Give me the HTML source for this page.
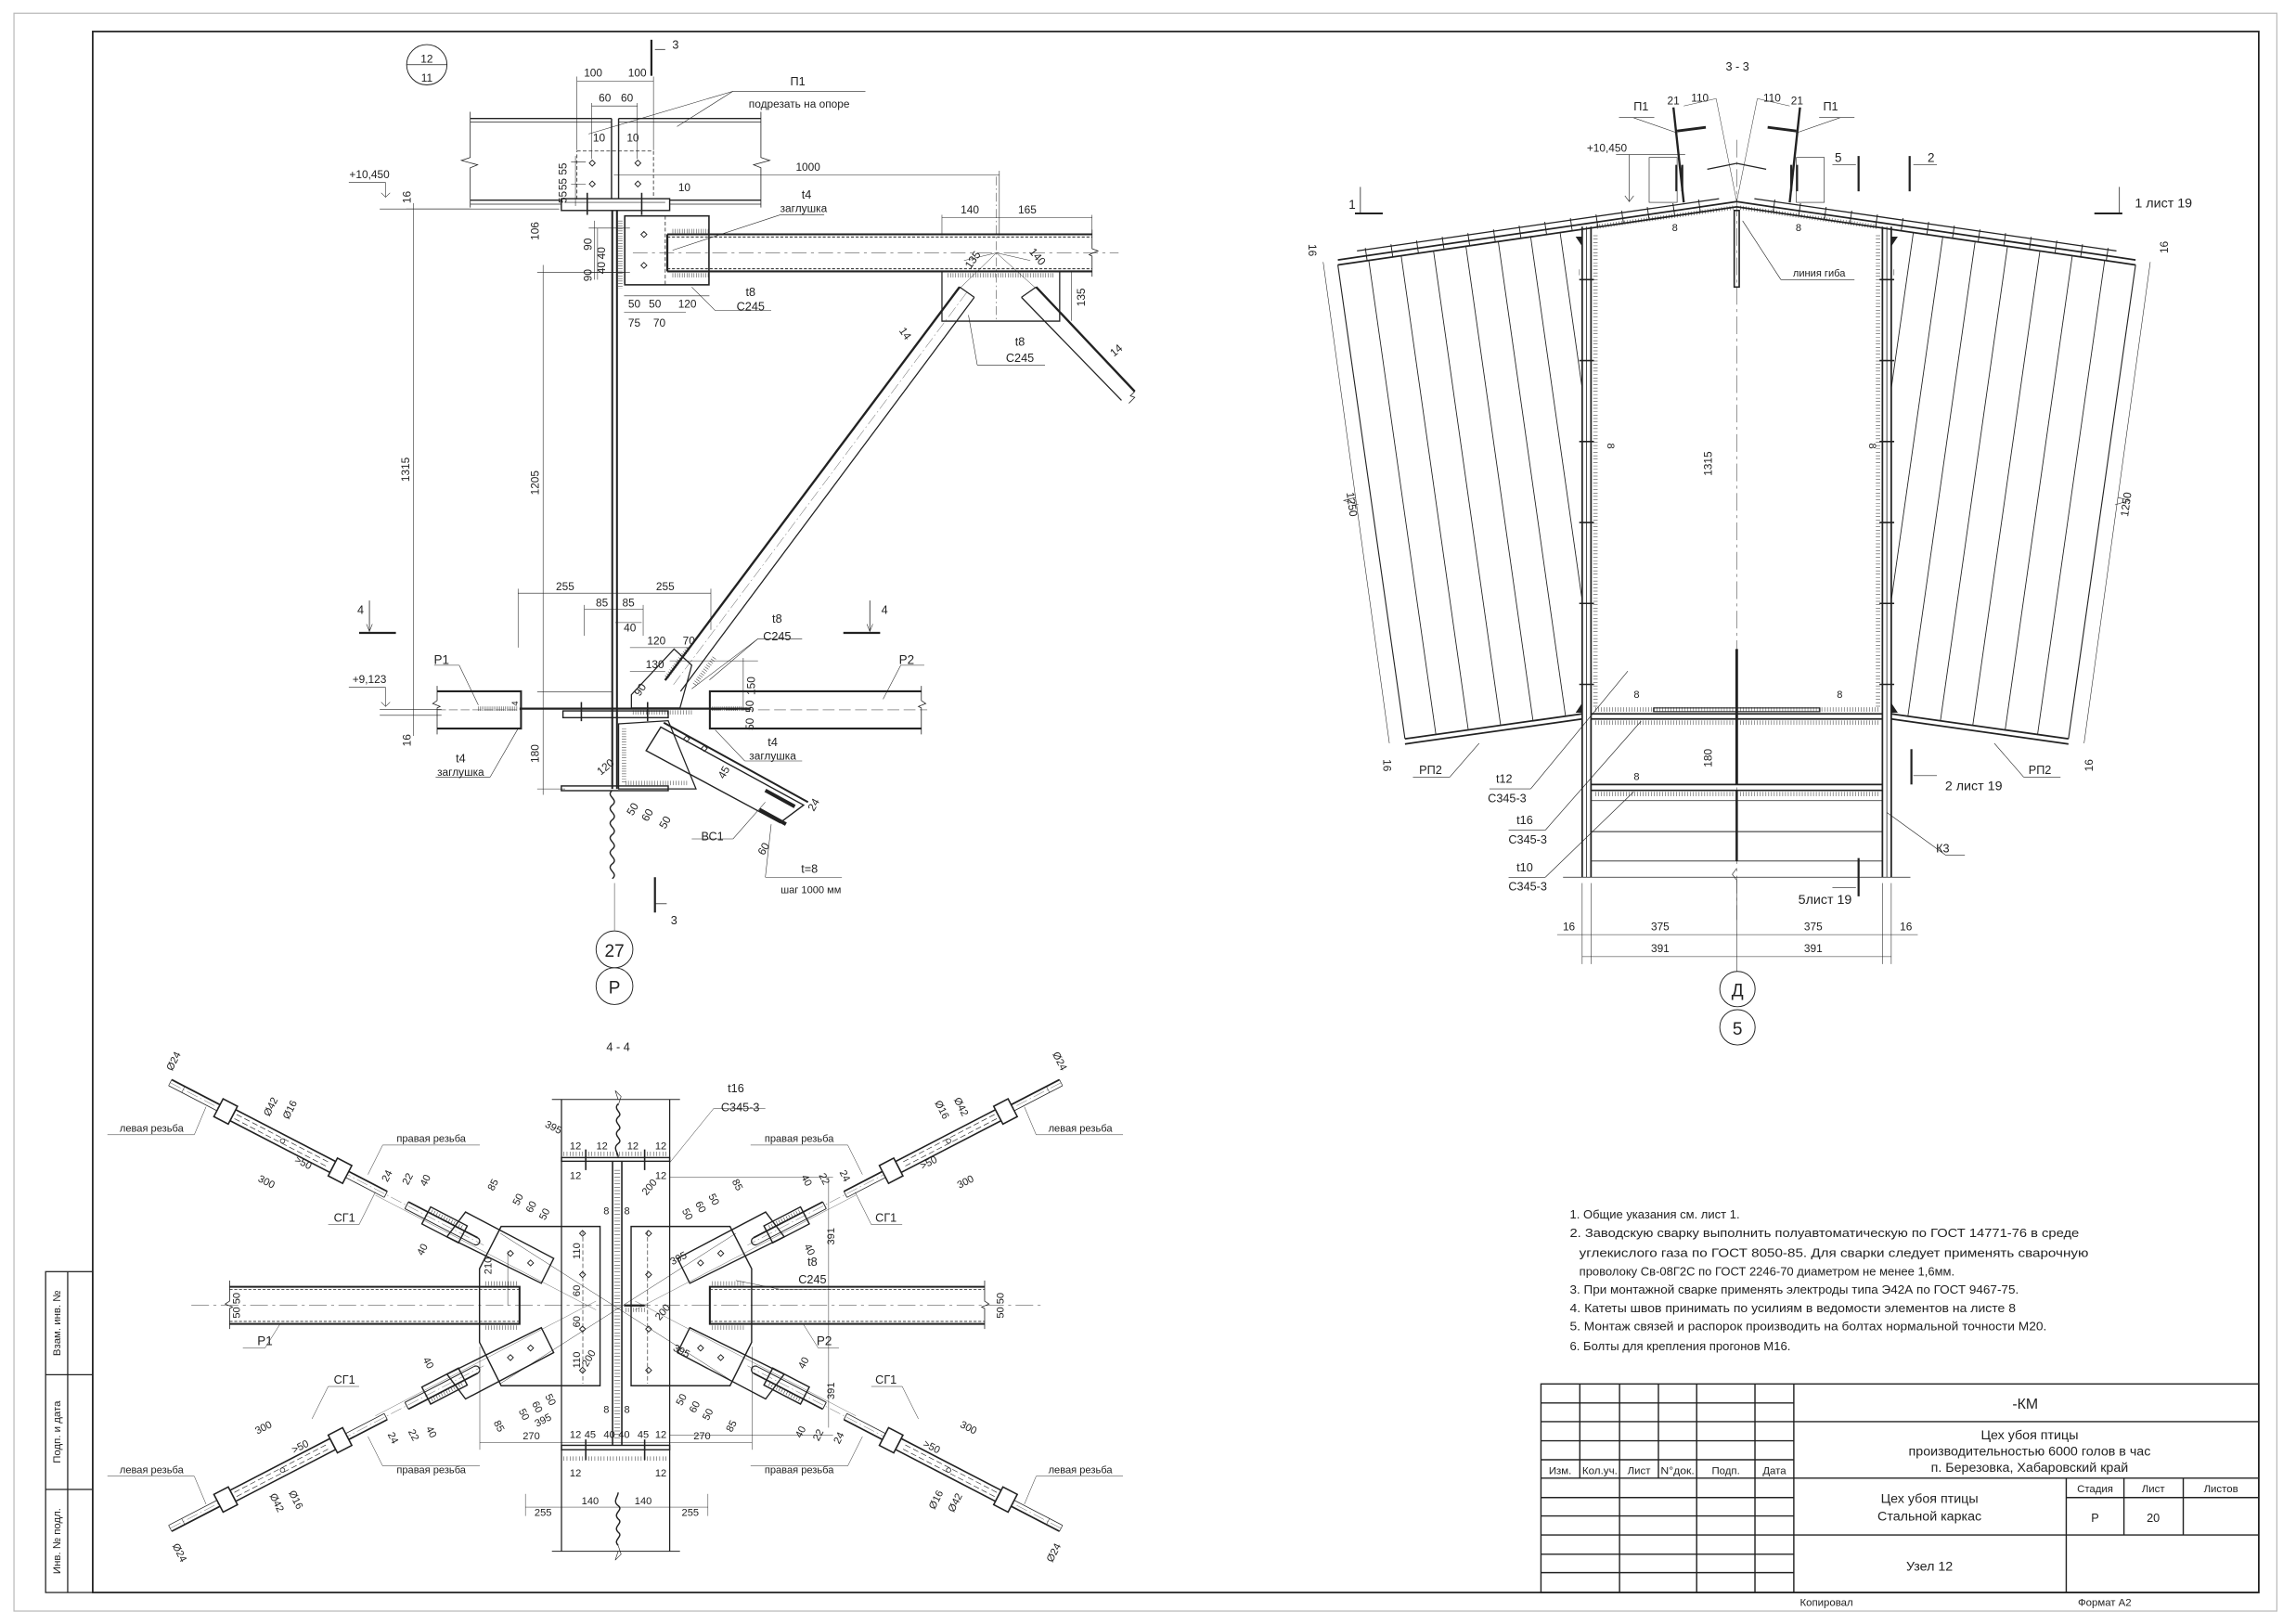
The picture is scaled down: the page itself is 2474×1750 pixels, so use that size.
<!DOCTYPE html>
<html><head><meta charset="utf-8"><style>
html,body{margin:0;padding:0;background:#fff;}
svg{display:block;}
text{font-family:"Liberation Sans Narrow","Liberation Sans","DejaVu Sans",sans-serif;fill:#222;}
</style></head><body>
<svg width="2474" height="1750" viewBox="0 0 1560 1103.4" preserveAspectRatio="none" xmlns="http://www.w3.org/2000/svg">
<defs>
<g id="rod">
  <line x1="0" y1="0" x2="240" y2="0" stroke="#555" stroke-width="0.25" stroke-dasharray="8 2 1 2"/>
  <line x1="0" y1="-2.3" x2="165" y2="-2.3" stroke="#222" stroke-width="1.1"/>
  <line x1="0" y1="2.3" x2="165" y2="2.3" stroke="#222" stroke-width="0.5"/>
  <line x1="0" y1="-2.3" x2="0" y2="2.3" stroke="#222" stroke-width="0.4"/>
  <line x1="10" y1="-2.3" x2="10" y2="2.3" stroke="#222" stroke-width="0.3"/>
  <line x1="165" y1="-2.3" x2="165" y2="2.3" stroke="#222" stroke-width="0.5"/>
  <rect x="48" y="-4.2" width="76.5" height="8.4" fill="#fff" stroke="#222" stroke-width="1"/>
  <line x1="50" y1="-1.6" x2="122" y2="-1.6" stroke="#222" stroke-width="0.4" stroke-dasharray="4 2"/>
  <line x1="50" y1="1.6" x2="122" y2="1.6" stroke="#222" stroke-width="0.4" stroke-dasharray="4 2"/>
  <circle cx="86" cy="0" r="1.5" fill="#fff" stroke="#222" stroke-width="0.5"/>
  <rect x="37" y="-6.8" width="11" height="13.6" fill="#fff" stroke="#222" stroke-width="1"/>
  <rect x="124.5" y="-6.8" width="11" height="13.6" fill="#fff" stroke="#222" stroke-width="1"/>
  <line x1="181" y1="-2.6" x2="234" y2="-2.6" stroke="#222" stroke-width="1.1"/>
  <line x1="181" y1="2.6" x2="234" y2="2.6" stroke="#222" stroke-width="0.6"/>
  <line x1="181" y1="-2.6" x2="181" y2="2.6" stroke="#222" stroke-width="0.6"/>
  <path d="M234,-2.6 A2.6,2.6 0 0 1 234,2.6" fill="none" stroke="#222" stroke-width="0.8"/>
  <rect x="196" y="-6.5" width="28" height="13" fill="none" stroke="#222" stroke-width="0.9"/>
  <line x1="198" y1="-4" x2="222" y2="-4" stroke="#222" stroke-width="3" stroke-dasharray="0.3 1.6"/>
</g>
<g id="quad">
  <use href="#rod" transform="translate(115.6,735.6) rotate(27.4)"/>
  <polygon points="303.7,840.3 316.3,823.5 376.2,855 367.8,871.9" fill="none" stroke="#222" stroke-width="0.9"/>
  <path d="M346.8,849.6 l2,2 l-2,2 l-2,-2z M360.5,856.1 l2,2 l-2,2 l-2,-2z" fill="none" stroke="#222" stroke-width="0.6"/>
  <line x1="255" y1="812" x2="405" y2="890" stroke="#444" stroke-width="0.25"/>
</g>
</defs>
<rect x="0" y="0" width="1560" height="1103.4" fill="#fff"/>
<!-- outer border -->
<rect x="9.5" y="9" width="1537.5" height="1085.6" fill="none" stroke="#bbb" stroke-width="0.8"/>
<!-- frame -->
<rect x="63" y="21.4" width="1471.7" height="1060.6" fill="none" stroke="#222" stroke-width="1.1"/>
<!-- left stamp strip -->
<g stroke="#222" stroke-width="0.8" fill="none">
<rect x="31" y="864" width="32" height="218"/>
<line x1="46" y1="864" x2="46" y2="1082"/>
<line x1="31" y1="934" x2="63" y2="934"/>
<line x1="31" y1="1012" x2="63" y2="1012"/>
</g>
<g font-size="7.2">
<text transform="translate(41,899) rotate(-90)" text-anchor="middle">Взам. инв. №</text>
<text transform="translate(41,973) rotate(-90)" text-anchor="middle">Подп. и дата</text>
<text transform="translate(41,1047) rotate(-90)" text-anchor="middle">Инв. № подл.</text>
</g>

<!-- ================= VIEW 1 (Node 12) ================= -->
<g stroke="#222" fill="none">
<circle cx="290" cy="44" r="13.7" stroke-width="0.6"/>
<line x1="276.3" y1="44" x2="303.7" y2="44" stroke-width="0.5"/>
<!-- section 3 top -->
<line x1="442.6" y1="27" x2="442.6" y2="51.5" stroke-width="1.4"/>
<line x1="445" y1="33.6" x2="452" y2="33.6" stroke-width="0.5"/>
<!-- top beams -->
<g stroke-width="0.9">
<line x1="319.5" y1="80.5" x2="415.5" y2="80.5"/><line x1="319.5" y1="83" x2="415.5" y2="83" stroke-width="0.5"/>
<line x1="420.3" y1="80.5" x2="517" y2="80.5"/><line x1="420.3" y1="83" x2="517" y2="83" stroke-width="0.5"/>
<line x1="319.5" y1="136" x2="381.4" y2="136"/><line x1="319.5" y1="138.7" x2="381.4" y2="138.7" stroke-width="0.5"/>
<line x1="455" y1="136" x2="517" y2="136"/><line x1="455" y1="138.7" x2="517" y2="138.7" stroke-width="0.5"/>
<line x1="415.5" y1="80.5" x2="415.5" y2="135"/><line x1="420.3" y1="80.5" x2="420.3" y2="135"/>
</g>
<path d="M319.5,76 V107 l-6,2 l11,3 l-5,2 V141 M517,76 V107 l6,2 l-11,3 l5,2 V141" stroke-width="0.5"/>
<rect x="392" y="102.6" width="52" height="32.4" stroke-width="0.5" stroke-dasharray="2.5 1.5"/>
<g stroke-width="0.6"><path d="M402.4,108.8 l2,2 l-2,2 l-2,-2z M402.4,123 l2,2 l-2,2 l-2,-2z M433.4,108.8 l2,2 l-2,2 l-2,-2z M433.4,123 l2,2 l-2,2 l-2,-2z"/></g>
<rect x="381.4" y="135" width="73.6" height="8" stroke-width="0.9"/>
<line x1="384" y1="137.5" x2="452" y2="137.5" stroke-width="0.4"/>
<line x1="399" y1="131" x2="399" y2="146" stroke-width="1"/><line x1="436" y1="131" x2="436" y2="146" stroke-width="1"/>
<!-- column -->
<line x1="416" y1="143" x2="416" y2="536" stroke-width="1.3"/>
<line x1="419.2" y1="143" x2="419.2" y2="536" stroke-width="1.3"/>
<line x1="421.5" y1="150" x2="421.5" y2="196" stroke-width="3" stroke-dasharray="0.3 1.4"/>
<!-- column plate -->
<rect x="424.5" y="146.7" width="57.2" height="46.8" stroke-width="1"/>
<line x1="452" y1="146.7" x2="452" y2="193.5" stroke-width="0.5" stroke-dasharray="2.5 1.5"/>
<path d="M437.5,157.3 l2,2 l-2,2 l-2,-2z M437.5,178.3 l2,2 l-2,2 l-2,-2z" stroke-width="0.6"/>
<!-- right beam -->
<line x1="453.4" y1="159.2" x2="742" y2="159.2" stroke-width="1.3"/>
<line x1="453.4" y1="161" x2="742" y2="161" stroke-width="0.6" stroke-dasharray="2 1.2"/>
<line x1="453.4" y1="184.4" x2="742" y2="184.4" stroke-width="1.3"/>
<line x1="453.4" y1="182.6" x2="742" y2="182.6" stroke-width="0.6" stroke-dasharray="2 1.2"/>
<line x1="453.4" y1="159.2" x2="453.4" y2="184.4" stroke-width="1.4"/>
<line x1="430" y1="171.8" x2="760" y2="171.8" stroke-width="0.3" stroke-dasharray="10 3 2 3"/>
<path d="M742,156 V169 l4,1.5 l-6,2.5 l2,1 V188" stroke-width="0.5"/>
<line x1="457" y1="157" x2="482" y2="157" stroke-width="3" stroke-dasharray="0.3 1.3"/>
<line x1="457" y1="187" x2="482" y2="187" stroke-width="3" stroke-dasharray="0.3 1.3"/>
<!-- top gusset -->
<path d="M640,184.4 V218.2 H720 V184.4" stroke-width="0.8"/>
<line x1="640" y1="218.2" x2="720" y2="218.2" stroke-width="0.6" stroke-dasharray="3 1.5"/>
<line x1="644" y1="187" x2="716" y2="187" stroke-width="3" stroke-dasharray="0.3 1.4"/>
<line x1="677" y1="120" x2="677" y2="218" stroke-width="0.3" stroke-dasharray="6 2 1 2"/>
<path d="M652,196 L677,171.8 L704,196" stroke-width="0.3"/>
<path d="M655,177 L677,171.8 L700,177" stroke-width="0.3"/>
<!-- main brace -->
<line x1="652" y1="195" x2="451.9" y2="462.2" stroke-width="1.5"/>
<line x1="662" y1="202" x2="462.4" y2="469.7" stroke-width="0.8"/>
<line x1="652" y1="195" x2="662" y2="202" stroke-width="0.8"/>
<line x1="657" y1="198.5" x2="457" y2="466" stroke-width="0.25" stroke-dasharray="8 2 1 2"/>
<!-- right brace -->
<line x1="704" y1="195" x2="771" y2="266" stroke-width="1.5"/>
<line x1="694" y1="202" x2="762" y2="272" stroke-width="0.8"/>
<line x1="694" y1="202" x2="704" y2="195" stroke-width="0.8"/>
<path d="M771,266 l-3,3 l3,1 l-4,4" stroke-width="0.5"/>
<!-- lower gusset & plates -->
<polygon points="429,481 429,472 458,441 470,452 462,481" stroke-width="0.8"/>
<line x1="453" y1="460" x2="468" y2="440" stroke-width="3" stroke-dasharray="0.3 1.4"/>
<line x1="472" y1="465" x2="486" y2="446" stroke-width="3" stroke-dasharray="0.3 1.4"/>
<line x1="430" y1="484" x2="470" y2="484" stroke-width="3" stroke-dasharray="0.3 1.5"/>
<line x1="353" y1="481.5" x2="510" y2="481.5" stroke-width="1.4"/>
<rect x="382.5" y="483" width="71.5" height="4.6" stroke-width="0.9"/>
<line x1="395" y1="477" x2="395" y2="490" stroke-width="1"/><line x1="440" y1="477" x2="440" y2="490" stroke-width="1"/>
<!-- P1 P2 -->
<path d="M297,469.7 H354 V495 H297" stroke-width="1.3"/>
<line x1="297" y1="482.3" x2="354" y2="482.3" stroke-width="0.3" stroke-dasharray="6 2"/>
<path d="M297,466 V476 l-3,2 l5,2 l-2,1 V499" stroke-width="0.5"/>
<line x1="325" y1="481.5" x2="352" y2="481.5" stroke-width="3" stroke-dasharray="0.3 1"/>
<path d="M626,469.7 H482.3 V495 H626" stroke-width="1.3"/>
<line x1="482" y1="482.3" x2="630" y2="482.3" stroke-width="0.3" stroke-dasharray="8 3"/>
<path d="M626,466 V476 l3,2 l-5,2 l2,1 V499" stroke-width="0.5"/>
<line x1="484" y1="481.5" x2="506" y2="481.5" stroke-width="3" stroke-dasharray="0.3 1"/>
<!-- lower diag plate -->
<polygon points="449,494 546,547 530,559 439,510" stroke-width="0.9"/>
<line x1="451" y1="491" x2="549" y2="545" stroke-width="1.3"/>
<path d="M466.5,500 l2,2 l-2,2 l-2,-2z M478.5,506.5 l2,2 l-2,2 l-2,-2z" stroke-width="0.6"/>
<polygon points="420.3,491.8 454,489.7 472.9,536 420.3,536" stroke-width="0.8"/>
<line x1="424" y1="495" x2="424" y2="532" stroke-width="3" stroke-dasharray="0.3 1.5"/>
<line x1="425" y1="532" x2="468" y2="532" stroke-width="3" stroke-dasharray="0.3 1.5"/>
<rect x="381.4" y="534" width="72.6" height="3.2" stroke-width="0.9"/>
<line x1="520" y1="537" x2="540" y2="548" stroke-width="2.5"/>
<line x1="516" y1="550" x2="534" y2="560" stroke-width="2.5"/>
<!-- wave & axis -->
<path d="M416,537 c-5,4 5,6 0,10 c-5,4 5,6 0,10 c-5,4 5,6 0,10 c-5,4 5,6 0,10 c-5,4 5,6 0,10 c-5,4 5,6 0,10" stroke-width="0.9"/>
<line x1="417.5" y1="600" x2="417.5" y2="632" stroke-width="0.3"/>
<circle cx="417.5" cy="645" r="12.5" stroke-width="0.6"/>
<circle cx="417.5" cy="670" r="12.5" stroke-width="0.6"/>
<!-- section 3 bottom -->
<line x1="445" y1="596" x2="445" y2="620" stroke-width="1.4"/>
<line x1="445" y1="614" x2="453" y2="614" stroke-width="0.5"/>
<!-- section 4 -->
<line x1="244" y1="430" x2="269" y2="430" stroke-width="1.4"/>
<line x1="251" y1="408" x2="251" y2="429" stroke-width="0.5"/>
<line x1="573" y1="430" x2="598" y2="430" stroke-width="1.4"/>
<line x1="591" y1="408" x2="591" y2="429" stroke-width="0.5"/>
<!-- dimension lines view 1 -->
<g stroke-width="0.35">
<line x1="281" y1="138" x2="281" y2="500"/>
<line x1="276" y1="142" x2="380" y2="142"/>
<line x1="369" y1="180" x2="369" y2="540"/>
<line x1="365" y1="185" x2="424" y2="185"/>
<line x1="365" y1="470" x2="416" y2="470"/>
<line x1="365" y1="536" x2="384" y2="536"/>
<line x1="352" y1="403" x2="483" y2="403"/><line x1="352" y1="400" x2="352" y2="440"/><line x1="483" y1="400" x2="483" y2="428"/>
<line x1="397" y1="414" x2="437" y2="414"/><line x1="397" y1="411" x2="397" y2="432"/><line x1="437" y1="411" x2="437" y2="432"/>
<line x1="418" y1="423" x2="436" y2="423"/>
<line x1="428" y1="440" x2="468" y2="440"/>
<line x1="428" y1="456" x2="452" y2="456"/>
<line x1="455" y1="449" x2="515" y2="449"/><line x1="505" y1="447" x2="505" y2="482"/>
<line x1="417" y1="119" x2="679" y2="119"/><line x1="679" y1="116" x2="679" y2="160"/>
<line x1="640" y1="148" x2="742" y2="148"/><line x1="640" y1="146" x2="640" y2="160"/><line x1="742" y1="146" x2="742" y2="160"/>
<line x1="392" y1="55" x2="444" y2="55"/><line x1="392" y1="52" x2="392" y2="102"/><line x1="444" y1="52" x2="444" y2="102"/>
<line x1="402" y1="72" x2="433" y2="72"/><line x1="402" y1="70" x2="402" y2="108"/><line x1="433" y1="70" x2="433" y2="108"/>
<line x1="388" y1="110" x2="398" y2="110"/><line x1="388" y1="125" x2="398" y2="125"/>
<line x1="391" y1="106" x2="391" y2="140"/>
<line x1="400" y1="155" x2="428" y2="155"/><line x1="400" y1="185" x2="428" y2="185"/>
<line x1="404" y1="150" x2="404" y2="190"/><line x1="406" y1="155" x2="406" y2="190"/>
<line x1="424" y1="201" x2="482" y2="201"/><line x1="424" y1="212" x2="466" y2="212"/>
<line x1="728" y1="184" x2="728" y2="218"/>
<line x1="498" y1="62" x2="588" y2="62"/><line x1="498" y1="62" x2="400" y2="91"/><line x1="498" y1="62" x2="460" y2="86"/>
<line x1="530" y1="146" x2="560" y2="146"/><line x1="530" y1="146" x2="457" y2="170"/>
<line x1="486" y1="211" x2="524" y2="211"/><line x1="486" y1="211" x2="470" y2="195"/>
<line x1="664" y1="248" x2="710" y2="248"/><line x1="664" y1="248" x2="658" y2="214"/>
<line x1="515" y1="434" x2="545" y2="434"/><line x1="515" y1="434" x2="470" y2="468"/><line x1="515" y1="434" x2="482" y2="462"/>
<line x1="295" y1="452" x2="312" y2="452"/><line x1="312" y1="452" x2="325" y2="479"/>
<line x1="612" y1="452" x2="628" y2="452"/><line x1="612" y1="452" x2="600" y2="475"/>
<line x1="296" y1="528" x2="333" y2="528"/><line x1="333" y1="528" x2="352" y2="495"/>
<line x1="506" y1="517" x2="545" y2="517"/><line x1="506" y1="517" x2="486" y2="496"/>
<line x1="470" y1="570" x2="498" y2="570"/><line x1="498" y1="570" x2="520" y2="545"/>
<line x1="520" y1="596" x2="572" y2="596"/><line x1="520" y1="596" x2="524" y2="560"/>
<line x1="237" y1="124" x2="262" y2="124"/><line x1="262" y1="124" x2="262" y2="134"/><path d="M259,131 l3,3 l3,-3"/>
<line x1="237" y1="467" x2="262" y2="467"/><line x1="262" y1="467" x2="262" y2="480"/><path d="M259,477 l3,3 l3,-3"/>
<line x1="258" y1="142" x2="320" y2="142"/><line x1="258" y1="482" x2="300" y2="482"/><line x1="258" y1="486" x2="300" y2="486"/>
<path d="M249,424 l2,5 l2,-5"/><path d="M589,424 l2,5 l2,-5"/>
</g>
</g>
<g font-size="7.5" text-anchor="middle">
<text x="290" y="42.5">12</text><text x="290" y="55.5">11</text>
<text x="459" y="33" font-size="8">3</text><text x="458" y="628" font-size="8">3</text>
<text x="403" y="52">100</text><text x="433" y="52">100</text>
<text x="411" y="69">60</text><text x="426" y="69">60</text>
<text x="407" y="96">10</text><text x="430" y="96">10</text><text x="465" y="130">10</text>
<text transform="translate(385,120) rotate(-90)">55 55</text>
<text transform="translate(385,134) rotate(-90)">55</text>
<text x="542" y="58" font-size="8">П1</text>
<text x="543" y="73" font-size="7.5">подрезать на опоре</text>
<text x="549" y="116">1000</text>
<text x="659" y="145">140</text><text x="698" y="145">165</text>
<text x="548" y="135" font-size="8">t4</text><text x="546" y="144" font-size="7.5">заглушка</text>
<text x="510" y="201" font-size="8">t8</text><text x="510" y="211" font-size="8">C245</text>
<text x="693" y="235" font-size="8">t8</text><text x="693" y="246" font-size="8">C245</text>
<text transform="translate(737,202) rotate(-90)">135</text>
<text transform="translate(663,178) rotate(-55)">135</text>
<text transform="translate(703,176) rotate(50)">140</text>
<text transform="translate(613,228) rotate(55)">14</text>
<text transform="translate(760,240) rotate(-40)">14</text>
<text transform="translate(366,157) rotate(-90)">106</text>
<text transform="translate(402,166) rotate(-90)">90</text>
<text transform="translate(402,187) rotate(-90)">90</text>
<text transform="translate(411,172) rotate(-90)">40</text><text transform="translate(411,182) rotate(-90)">40</text>
<text x="431" y="209">50</text><text x="445" y="209">50</text><text x="467" y="209">120</text>
<text x="431" y="222">75</text><text x="448" y="222">70</text>
<text transform="translate(278,319) rotate(-90)">1315</text>
<text transform="translate(366,328) rotate(-90)">1205</text>
<text transform="translate(279,134) rotate(-90)">16</text>
<text transform="translate(279,503) rotate(-90)">16</text>
<text transform="translate(366,512) rotate(-90)">180</text>
<text x="384" y="401">255</text><text x="452" y="401">255</text>
<text x="409" y="412">85</text><text x="427" y="412">85</text>
<text x="428" y="429">40</text><text x="446" y="438">120</text><text x="468" y="438">70</text>
<text x="445" y="454">130</text>
<text transform="translate(513,466) rotate(-90)">150</text>
<text transform="translate(437,470) rotate(-55)">90</text>
<text transform="translate(352,478) rotate(-90)" font-size="6">4</text>
<text transform="translate(512,492) rotate(-90)">50</text><text transform="translate(512,480) rotate(-90)">50</text>
<text x="528" y="423" font-size="8">t8</text><text x="528" y="435" font-size="8">C245</text>
<text x="300" y="451" font-size="8.5">P1</text><text x="616" y="451" font-size="8.5">P2</text>
<text x="313" y="518" font-size="8">t4</text><text x="313" y="527" font-size="7.5">заглушка</text>
<text x="525" y="507" font-size="8">t4</text><text x="525" y="516" font-size="7.5">заглушка</text>
<text x="484" y="571" font-size="8">ВС1</text>
<text x="550" y="593" font-size="8">t=8</text><text x="551" y="607" font-size="7">шаг 1000 мм</text>
<text transform="translate(413,523) rotate(-40)">120</text>
<text transform="translate(432,551) rotate(-60)">50</text><text transform="translate(442,555) rotate(-60)">60</text><text transform="translate(454,560) rotate(-60)">50</text>
<text transform="translate(521,578) rotate(-60)">60</text>
<text transform="translate(555,548) rotate(-60)">24</text>
<text transform="translate(494,526) rotate(-60)">45</text>
<text x="251" y="121" font-size="7.5">+10,450</text><text x="251" y="464" font-size="7.5">+9,123</text>
<text x="245" y="417" font-size="8">4</text><text x="601" y="417" font-size="8">4</text>
<text x="417.5" y="650" font-size="12">27</text><text x="417.5" y="675" font-size="12">P</text>
</g>

<!-- ================= VIEW 3-3 ================= -->
<text x="1180.5" y="48" font-size="8" text-anchor="middle">3 - 3</text>
<g id="halfL" stroke="#222" fill="none">
<line x1="909" y1="176.6" x2="1180" y2="137" stroke-width="1.1"/>
<line x1="909" y1="180" x2="1180" y2="140.5" stroke-width="1.1"/>
<line x1="922" y1="170.5" x2="1168" y2="135" stroke-width="0.8"/>
<line x1="928" y1="173" x2="1165" y2="138.5" stroke-width="9" stroke-dasharray="0.6 17"/>
<line x1="1085" y1="154" x2="1178" y2="141" stroke-width="3" stroke-dasharray="0.3 1.6"/>
<line x1="909" y1="180" x2="954.6" y2="502" stroke-width="0.7"/>
<line x1="954.6" y1="502" x2="1075" y2="485" stroke-width="1.1"/>
<line x1="954.6" y1="505.5" x2="1075" y2="488.5" stroke-width="1.1"/>
<g stroke-width="0.55">
<line x1="930" y1="176.9" x2="975.6" y2="499"/>
<line x1="952" y1="173.7" x2="997.6" y2="495.9"/>
<line x1="974" y1="170.5" x2="1019.6" y2="492.8"/>
<line x1="996" y1="167.3" x2="1041.6" y2="489.7"/>
<line x1="1018" y1="164.1" x2="1063.7" y2="486.6"/>
<line x1="1040" y1="160.9" x2="1075" y2="408"/>
<line x1="1060" y1="158" x2="1075" y2="264"/>
</g>
<line x1="1075" y1="154" x2="1075" y2="596" stroke-width="1.1"/>
<line x1="1078" y1="154" x2="1078" y2="596" stroke-width="0.5"/>
<line x1="1081" y1="154" x2="1081" y2="596" stroke-width="1.1"/>
<line x1="1084" y1="160" x2="1084" y2="480" stroke-width="3" stroke-dasharray="0.3 2"/>
<line x1="1073" y1="185" x2="1083" y2="185" stroke-width="4" stroke-dasharray="0.3 55"/>
<path d="M1073,190 h10 M1073,245 h10 M1073,300 h10 M1073,355 h10 M1073,410 h10 M1073,465 h10" stroke-width="1"/>
<path d="M1071,161 l4,6 l0,-6z M1071,484 l4,-6 l0,6z" fill="#222" stroke-width="0.5"/>
<line x1="1081" y1="485" x2="1180" y2="485" stroke-width="1.1"/>
<line x1="1081" y1="488.5" x2="1180" y2="488.5" stroke-width="1.1"/>
<line x1="1084" y1="491" x2="1178" y2="491" stroke-width="3" stroke-dasharray="0.3 1.6"/>
<line x1="1084" y1="482" x2="1178" y2="482" stroke-width="3" stroke-dasharray="0.3 1.6"/>
<rect x="1123.5" y="481" width="56.5" height="2.5" stroke-width="0.7"/>
<line x1="1081" y1="533" x2="1180" y2="533" stroke-width="1.1"/>
<line x1="1081" y1="537" x2="1180" y2="537" stroke-width="1.1"/>
<line x1="1084" y1="539.5" x2="1178" y2="539.5" stroke-width="3" stroke-dasharray="0.3 1.6"/>
<line x1="1081" y1="544" x2="1180" y2="544" stroke-width="0.5"/>
<line x1="1081" y1="565" x2="1180" y2="565" stroke-width="0.6"/>
<line x1="1081" y1="585" x2="1180" y2="585" stroke-width="0.6"/>
<line x1="1062" y1="596" x2="1180" y2="596" stroke-width="0.5"/>
<line x1="899" y1="178" x2="944" y2="505" stroke-width="0.35"/>
<path d="M921,338 l-8,2 l10,3" stroke-width="0.35"/>
<line x1="1075" y1="600" x2="1075" y2="655" stroke-width="0.35"/>
<line x1="1081" y1="600" x2="1081" y2="655" stroke-width="0.35"/>
<line x1="1137" y1="73" x2="1144" y2="137.5" stroke-width="1.5"/>
<path d="M1139.5,89 L1159,86.5" stroke-width="1.8"/>
<rect x="1120.5" y="107" width="19" height="30.5" stroke-width="0.4"/>
<path d="M1139,112 v18 M1143,112 v18" stroke-width="1.4"/>
<line x1="1109.6" y1="79.9" x2="1139.8" y2="90.4" stroke-width="0.4"/>
<line x1="1100" y1="79.9" x2="1124" y2="79.9" stroke-width="0.4"/>
<line x1="1180" y1="137" x2="1166" y2="67" stroke-width="0.3"/>
<line x1="1144" y1="72" x2="1166" y2="67" stroke-width="0.3"/>
</g>
<use href="#halfL" transform="translate(2360,0) scale(-1,1)"/>
<g stroke="#222" fill="none">
<line x1="1180" y1="95" x2="1180" y2="625" stroke-width="0.3" stroke-dasharray="12 3 2 3"/>
<rect x="1178.3" y="143" width="3.4" height="52" stroke-width="1"/>
<line x1="1180" y1="441" x2="1180" y2="533" stroke-width="1.8"/>
<line x1="1180" y1="537" x2="1180" y2="585" stroke-width="1.6"/>
<path d="M1160,115 L1180,111 L1200,115" stroke-width="0.8"/>
<path d="M1180,590 l-3,4 l3,4 v2" stroke-width="0.4"/>
<line x1="1058" y1="635" x2="1303" y2="635" stroke-width="0.35"/>
<line x1="1075" y1="650" x2="1285" y2="650" stroke-width="0.35"/>
<line x1="1180" y1="600" x2="1180" y2="660" stroke-width="0.35"/>
<circle cx="1180.5" cy="672" r="12" stroke-width="0.6"/>
<circle cx="1180.5" cy="698" r="12" stroke-width="0.6"/>
<line x1="1180.5" y1="660" x2="1180.5" y2="660" stroke-width="0.3"/>
<line x1="1262.8" y1="106" x2="1262.8" y2="130" stroke-width="1.4"/>
<line x1="1297.5" y1="106" x2="1297.5" y2="130" stroke-width="1.4"/>
<line x1="1245" y1="112" x2="1261" y2="112" stroke-width="0.4"/><line x1="1300" y1="112" x2="1316" y2="112" stroke-width="0.4"/>
<line x1="924.3" y1="127" x2="924.3" y2="145" stroke-width="0.5"/><line x1="920.6" y1="145" x2="939.5" y2="145" stroke-width="1.3"/>
<line x1="1440" y1="127" x2="1440" y2="145" stroke-width="0.5"/><line x1="1423" y1="145" x2="1442" y2="145" stroke-width="1.3"/>
<line x1="1098" y1="105" x2="1145" y2="105" stroke-width="0.4"/><line x1="1107" y1="105" x2="1107" y2="137" stroke-width="0.4"/><path d="M1104,133 l3,4 l3,-4" stroke-width="0.4"/>
<line x1="1298.7" y1="509" x2="1298.7" y2="533" stroke-width="1.4"/><line x1="1300" y1="527" x2="1316" y2="527" stroke-width="0.4"/>
<line x1="1262.8" y1="583" x2="1262.8" y2="609" stroke-width="1.4"/><line x1="1245" y1="603" x2="1261" y2="603" stroke-width="0.4"/>
<line x1="1210" y1="190" x2="1260" y2="190" stroke-width="0.4"/><line x1="1210" y1="190" x2="1184" y2="150" stroke-width="0.4"/>
<line x1="960" y1="528" x2="985" y2="528" stroke-width="0.4"/><line x1="985" y1="528" x2="1005" y2="505" stroke-width="0.4"/>
<line x1="1375" y1="528" x2="1400" y2="528" stroke-width="0.4"/><line x1="1375" y1="528" x2="1355" y2="505" stroke-width="0.4"/>
<line x1="1012" y1="536" x2="1040" y2="536" stroke-width="0.4"/><line x1="1040" y1="536" x2="1106" y2="456" stroke-width="0.4"/>
<line x1="1025" y1="564" x2="1050" y2="564" stroke-width="0.4"/><line x1="1050" y1="564" x2="1115" y2="490" stroke-width="0.4"/>
<line x1="1025" y1="596" x2="1050" y2="596" stroke-width="0.4"/><line x1="1050" y1="596" x2="1110" y2="538" stroke-width="0.4"/>
<line x1="1322" y1="581" x2="1335" y2="581" stroke-width="0.4"/><line x1="1322" y1="581" x2="1282" y2="552" stroke-width="0.4"/>
</g>
<g font-size="7.5" text-anchor="middle">
<text x="1115" y="75" font-size="8">П1</text><text x="1243.8" y="75" font-size="8">П1</text>
<text x="1137" y="71">21</text><text x="1155" y="69">110</text>
<text x="1204" y="69">110</text><text x="1221" y="71">21</text>
<text x="1091.8" y="103">+10,450</text>
<text x="918.7" y="142" font-size="8.5">1</text>
<text x="1470" y="141" font-size="9">1 лист 19</text>
<text x="1249" y="110" font-size="8.5">5</text><text x="1312" y="110" font-size="8.5">2</text>
<text x="1236" y="188" font-size="7">линия гиба</text>
<text transform="translate(1163,315) rotate(-90)">1315</text>
<text transform="translate(1163,515) rotate(-90)">180</text>
<text transform="translate(916,343) rotate(82)">1250</text>
<text transform="translate(1447,343) rotate(-82)">1250</text>
<text transform="translate(889,170) rotate(90)">16</text>
<text transform="translate(1473,168) rotate(-90)">16</text>
<text transform="translate(940,520) rotate(90)">16</text>
<text transform="translate(1422,520) rotate(-90)">16</text>
<text x="972" y="526" font-size="8">РП2</text><text x="1386" y="526" font-size="8">РП2</text>
<text x="1022" y="532" font-size="8">t12</text><text x="1024" y="545" font-size="8">C345-3</text>
<text x="1036" y="560" font-size="8">t16</text><text x="1038" y="573" font-size="8">C345-3</text>
<text x="1036" y="592" font-size="8">t10</text><text x="1038" y="605" font-size="8">C345-3</text>
<text x="1320" y="579" font-size="8">К3</text>
<text x="1341" y="537" font-size="9">2 лист 19</text>
<text x="1240" y="614" font-size="9">5лист 19</text>
<text x="1066" y="632">16</text><text x="1128" y="632">375</text><text x="1232" y="632">375</text><text x="1295" y="632">16</text>
<text x="1128" y="647">391</text><text x="1232" y="647">391</text>
<text x="1180.5" y="677" font-size="12">Д</text><text x="1180.5" y="703" font-size="12">5</text>
<text x="1138" y="157" font-size="7">8</text><text x="1222" y="157" font-size="7">8</text>
<text x="1112" y="474" font-size="7">8</text><text x="1250" y="474" font-size="7">8</text>
<text x="1112" y="530" font-size="7">8</text>
<text transform="translate(1092,303) rotate(90)" font-size="7">8</text>
<text transform="translate(1270,303) rotate(90)" font-size="7">8</text>
</g>

<!-- ================= VIEW 4-4 ================= -->
<text x="420" y="714" font-size="8" text-anchor="middle">4 - 4</text>
<use href="#quad"/>
<use href="#quad" transform="translate(836.5,0) scale(-1,1)"/>
<use href="#quad" transform="translate(0,1774) scale(1,-1)"/>
<use href="#quad" transform="translate(836.5,1774) scale(-1,-1)"/>
<g stroke="#222" fill="none">
<line x1="381.5" y1="747" x2="381.5" y2="1054" stroke-width="0.8"/>
<line x1="455" y1="747" x2="455" y2="1054" stroke-width="0.8"/>
<line x1="375" y1="747" x2="462" y2="747" stroke-width="0.6"/>
<line x1="375" y1="1054" x2="462" y2="1054" stroke-width="0.6"/>
<path d="M420,747 l-2,-6 l4,4 l-2,6" stroke-width="0.4"/>
<path d="M420,1054 l-2,6 l4,-4 l-2,-6" stroke-width="0.4"/>
<path d="M420,750 c-4,4 4,6 0,9 c-4,4 4,6 0,9 c-4,4 4,6 0,9 c-4,3 0,6 0,9" stroke-width="0.9"/>
<path d="M420,1050 c-4,-4 4,-6 0,-9 c-4,-4 4,-6 0,-9 c-4,-4 4,-6 0,-9 c-4,-3 0,-6 0,-9" stroke-width="0.9"/>
<rect x="381.5" y="786.5" width="73.5" height="2.5" stroke-width="0.9"/>
<rect x="381.5" y="982" width="73.5" height="3" stroke-width="0.9"/>
<line x1="383" y1="784" x2="453" y2="784" stroke-width="3" stroke-dasharray="0.3 1.8"/>
<line x1="383" y1="991" x2="453" y2="991" stroke-width="3" stroke-dasharray="0.3 1.8"/>
<path d="M398,781 v14 M438,781 v14 M398,978 v14 M438,978 v14" stroke-width="1"/>
<line x1="416.2" y1="789" x2="416.2" y2="982" stroke-width="1"/>
<line x1="422.5" y1="789" x2="422.5" y2="982" stroke-width="1"/>
<line x1="419.3" y1="795" x2="419.3" y2="978" stroke-width="4" stroke-dasharray="0.3 2"/>
<path d="M340.5,833.3 H407.7 V941.5 H340.5 L325.8,912 V862 Z" stroke-width="0.9"/>
<path d="M496,833.3 H428.8 V941.5 H496 L510.7,912 V862 Z" stroke-width="0.9"/>
<line x1="396" y1="836" x2="396" y2="940" stroke-width="0.4" stroke-dasharray="3 1.5"/>
<line x1="440" y1="836" x2="440" y2="940" stroke-width="0.4" stroke-dasharray="3 1.5"/>
<path d="M395.8,836 l2,2 l-2,2 l-2,-2z M395.8,864 l2,2 l-2,2 l-2,-2z M395.8,901 l2,2 l-2,2 l-2,-2z M395.8,929 l2,2 l-2,2 l-2,-2z M440.7,836 l2,2 l-2,2 l-2,-2z M440.7,864 l2,2 l-2,2 l-2,-2z M440.7,901 l2,2 l-2,2 l-2,-2z M440.7,929 l2,2 l-2,2 l-2,-2z" stroke-width="0.6"/>
<line x1="424" y1="887" x2="438" y2="887" stroke-width="1.4"/>
<line x1="425" y1="890" x2="438" y2="890" stroke-width="3" stroke-dasharray="0.3 1.5"/>
<path d="M156,874.3 H353 V899.5 H156" stroke-width="1.3"/>
<line x1="156" y1="876" x2="353" y2="876" stroke-width="0.5" stroke-dasharray="2 1.2"/>
<line x1="156" y1="897.8" x2="353" y2="897.8" stroke-width="0.5" stroke-dasharray="2 1.2"/>
<line x1="130" y1="887" x2="710" y2="887" stroke-width="0.3" stroke-dasharray="12 3 2 3"/>
<path d="M156,870 V884 l-3,2 l5,2 l-2,1 V903" stroke-width="0.5"/>
<path d="M669,874.3 H482.3 V899.5 H669" stroke-width="1.3"/>
<line x1="482.3" y1="876" x2="669" y2="876" stroke-width="0.5" stroke-dasharray="2 1.2"/>
<line x1="482.3" y1="897.8" x2="669" y2="897.8" stroke-width="0.5" stroke-dasharray="2 1.2"/>
<path d="M669,870 V884 l3,2 l-5,2 l2,1 V903" stroke-width="0.5"/>
<line x1="330" y1="872" x2="352" y2="872" stroke-width="3" stroke-dasharray="0.3 1.6"/>
<line x1="330" y1="902" x2="352" y2="902" stroke-width="3" stroke-dasharray="0.3 1.6"/>
<line x1="484" y1="872" x2="506" y2="872" stroke-width="3" stroke-dasharray="0.3 1.6"/>
<line x1="484" y1="902" x2="506" y2="902" stroke-width="3" stroke-dasharray="0.3 1.6"/>
<g stroke-width="0.3">
<line x1="340" y1="838" x2="500" y2="940"/><line x1="340" y1="940" x2="500" y2="838"/>
<line x1="357" y1="1024" x2="481" y2="1024"/><line x1="357" y1="1015" x2="357" y2="1030"/><line x1="481" y1="1015" x2="481" y2="1030"/>
<line x1="326" y1="980" x2="511" y2="980"/><line x1="326" y1="915" x2="326" y2="985"/><line x1="511" y1="915" x2="511" y2="985"/>
<line x1="563" y1="800" x2="563" y2="970"/><line x1="455" y1="800" x2="566" y2="800"/><line x1="455" y1="975" x2="566" y2="975"/>
<line x1="345" y1="850" x2="345" y2="887"/>
<line x1="73" y1="771" x2="132" y2="771"/><line x1="132" y1="771" x2="140" y2="752"/>
<line x1="260" y1="778" x2="326" y2="778"/><line x1="260" y1="778" x2="250" y2="798"/>
<line x1="223" y1="832" x2="244" y2="832"/><line x1="244" y1="832" x2="255" y2="810"/>
<line x1="510" y1="778" x2="576" y2="778"/><line x1="576" y1="778" x2="586" y2="798"/>
<line x1="704" y1="771" x2="763" y2="771"/><line x1="704" y1="771" x2="696" y2="752"/>
<line x1="592" y1="832" x2="613" y2="832"/><line x1="592" y1="832" x2="581" y2="810"/>
<line x1="73" y1="1003" x2="132" y2="1003"/><line x1="132" y1="1003" x2="140" y2="1022"/>
<line x1="260" y1="996" x2="326" y2="996"/><line x1="260" y1="996" x2="250" y2="976"/>
<line x1="223" y1="942" x2="244" y2="942"/><line x1="223" y1="942" x2="212" y2="964"/>
<line x1="510" y1="996" x2="576" y2="996"/><line x1="576" y1="996" x2="586" y2="976"/>
<line x1="704" y1="1003" x2="763" y2="1003"/><line x1="704" y1="1003" x2="696" y2="1022"/>
<line x1="592" y1="942" x2="613" y2="942"/><line x1="613" y1="942" x2="624" y2="964"/>
<line x1="485" y1="753" x2="520" y2="753"/><line x1="485" y1="753" x2="455" y2="790"/>
<line x1="530" y1="876" x2="565" y2="876"/><line x1="530" y1="876" x2="500" y2="870"/>
<line x1="165" y1="916" x2="180" y2="916"/><line x1="180" y1="916" x2="190" y2="900"/>
<line x1="556" y1="916" x2="570" y2="916"/><line x1="556" y1="916" x2="546" y2="900"/>
</g>
</g>
<g font-size="7" text-anchor="middle">
<text x="500" y="742" font-size="8">t16</text><text x="503" y="755" font-size="8">C345-3</text>
<text x="552" y="860" font-size="8">t8</text><text x="552" y="872" font-size="8">C245</text>
<text x="180" y="914" font-size="8.5">P1</text><text x="560" y="914" font-size="8.5">P2</text>
<text x="103" y="769">левая резьба</text><text x="293" y="776">правая резьба</text>
<text x="543" y="776">правая резьба</text><text x="734" y="769">левая резьба</text>
<text x="103" y="1001">левая резьба</text><text x="293" y="1001">правая резьба</text>
<text x="543" y="1001">правая резьба</text><text x="734" y="1001">левая резьба</text>
<text x="234" y="830" font-size="8">СГ1</text><text x="602" y="830" font-size="8">СГ1</text>
<text x="234" y="940" font-size="8">СГ1</text><text x="602" y="940" font-size="8">СГ1</text>
<text transform="translate(120,722) rotate(-63)">Ø24</text><text transform="translate(718,722) rotate(63)">Ø24</text>
<text transform="translate(120,1056) rotate(63)">Ø24</text><text transform="translate(718,1056) rotate(-63)">Ø24</text>
<text transform="translate(186,753) rotate(-63)">Ø42</text><text transform="translate(199,755) rotate(-63)">Ø16</text>
<text transform="translate(651,753) rotate(63)">Ø42</text><text transform="translate(638,755) rotate(63)">Ø16</text>
<text transform="translate(186,1022) rotate(63)">Ø42</text><text transform="translate(199,1020) rotate(63)">Ø16</text>
<text transform="translate(651,1022) rotate(-63)">Ø42</text><text transform="translate(638,1020) rotate(-63)">Ø16</text>
<text transform="translate(180,805) rotate(27)">300</text><text transform="translate(205,792) rotate(27)">&gt;50</text>
<text transform="translate(657,805) rotate(-27)">300</text><text transform="translate(632,792) rotate(-27)">&gt;50</text>
<text transform="translate(180,972) rotate(-27)">300</text><text transform="translate(205,985) rotate(-27)">&gt;50</text>
<text transform="translate(657,972) rotate(27)">300</text><text transform="translate(632,985) rotate(27)">&gt;50</text>
<text transform="translate(265,800) rotate(-63)">24</text><text transform="translate(279,802) rotate(-63)">22</text><text transform="translate(291,803) rotate(-63)">40</text>
<text transform="translate(572,800) rotate(63)">24</text><text transform="translate(558,802) rotate(63)">22</text><text transform="translate(546,803) rotate(63)">40</text>
<text transform="translate(265,978) rotate(63)">24</text><text transform="translate(279,976) rotate(63)">22</text><text transform="translate(291,974) rotate(63)">40</text>
<text transform="translate(572,978) rotate(-63)">24</text><text transform="translate(558,976) rotate(-63)">22</text><text transform="translate(546,974) rotate(-63)">40</text>
<text transform="translate(337,806) rotate(-63)">85</text><text transform="translate(499,806) rotate(63)">85</text>
<text transform="translate(337,970) rotate(63)">85</text><text transform="translate(499,970) rotate(-63)">85</text>
<text transform="translate(354,816) rotate(-63)">50</text><text transform="translate(363,821) rotate(-63)">60</text><text transform="translate(372,826) rotate(-63)">50</text>
<text transform="translate(483,816) rotate(63)">50</text><text transform="translate(474,821) rotate(63)">60</text><text transform="translate(465,826) rotate(63)">50</text>
<text transform="translate(354,962) rotate(63)">50</text><text transform="translate(363,957) rotate(63)">60</text><text transform="translate(372,952) rotate(63)">50</text>
<text transform="translate(483,962) rotate(-63)">50</text><text transform="translate(474,957) rotate(-63)">60</text><text transform="translate(465,952) rotate(-63)">50</text>
<text transform="translate(289,850) rotate(-63)">40</text><text transform="translate(289,927) rotate(63)">40</text>
<text transform="translate(548,850) rotate(63)">40</text><text transform="translate(548,927) rotate(-63)">40</text>
<text transform="translate(334,860) rotate(-90)">210</text>
<text transform="translate(394,850) rotate(-90)">110</text><text transform="translate(394,877) rotate(-90)">60</text><text transform="translate(394,898) rotate(-90)">60</text><text transform="translate(394,924) rotate(-90)">110</text>
<text transform="translate(375,768) rotate(27)">395</text><text transform="translate(462,857) rotate(-27)">395</text>
<text transform="translate(370,967) rotate(-27)">395</text><text transform="translate(462,920) rotate(27)">395</text>
<text transform="translate(443,808) rotate(-50)">200</text><text transform="translate(452,893) rotate(-50)">200</text><text transform="translate(402,924) rotate(-60)">200</text>
<text x="391" y="781">12</text><text x="409" y="781">12</text><text x="430" y="781">12</text><text x="449" y="781">12</text>
<text x="391" y="801">12</text><text x="449" y="801">12</text>
<text x="391" y="977">12</text><text x="401" y="977">45</text><text x="414" y="977">40</text><text x="424" y="977">40</text><text x="437" y="977">45</text><text x="449" y="977">12</text>
<text x="391" y="1003">12</text><text x="449" y="1003">12</text>
<text x="361" y="978">270</text><text x="477" y="978">270</text>
<text x="369" y="1030">255</text><text x="401" y="1022">140</text><text x="437" y="1022">140</text><text x="469" y="1030">255</text>
<text x="412" y="825">8</text><text x="426" y="825">8</text><text x="412" y="960">8</text><text x="426" y="960">8</text>
<text transform="translate(567,840) rotate(-90)">391</text><text transform="translate(567,945) rotate(-90)">391</text>
<text transform="translate(163,887) rotate(-90)">50 50</text>
<text transform="translate(682,887) rotate(-90)">50 50</text>
</g>

<!-- ================= NOTES ================= -->
<g font-size="8.2">
<text x="1066.6" y="828">1. Общие указания см. лист 1.</text>
<text x="1066.6" y="840.5" textLength="346" lengthAdjust="spacingAndGlyphs">2. Заводскую сварку выполнить полуавтоматическую по ГОСТ 14771-76 в среде</text>
<text x="1073" y="854" textLength="346" lengthAdjust="spacingAndGlyphs">углекислого газа по ГОСТ 8050-85. Для сварки следует применять сварочную</text>
<text x="1073" y="866.5" textLength="255" lengthAdjust="spacingAndGlyphs">проволоку Св-08Г2С по ГОСТ 2246-70 диаметром не менее 1,6мм.</text>
<text x="1066.6" y="879" textLength="305" lengthAdjust="spacingAndGlyphs">3. При монтажной сварке применять электроды типа Э42А по ГОСТ 9467-75.</text>
<text x="1066.6" y="891.5" textLength="303" lengthAdjust="spacingAndGlyphs">4. Катеты швов принимать по усилиям в ведомости элементов на листе 8</text>
<text x="1066.6" y="904" textLength="324" lengthAdjust="spacingAndGlyphs">5. Монтаж связей и распорок производить на болтах нормальной точности М20.</text>
<text x="1066.6" y="917.5" textLength="150" lengthAdjust="spacingAndGlyphs">6. Болты для крепления прогонов М16.</text>
</g>

<!-- ================= TITLE BLOCK ================= -->
<g stroke="#222" stroke-width="0.9" fill="none">
<rect x="1047" y="940.3" width="487.7" height="141.7"/>
<line x1="1218.8" y1="940.3" x2="1218.8" y2="1082"/>
<line x1="1073.4" y1="940.3" x2="1073.4" y2="1004.3"/>
<line x1="1100.4" y1="940.3" x2="1100.4" y2="1082"/>
<line x1="1126.8" y1="940.3" x2="1126.8" y2="1004.3"/>
<line x1="1152.8" y1="940.3" x2="1152.8" y2="1082"/>
<line x1="1192.4" y1="940.3" x2="1192.4" y2="1082"/>
<line x1="1047" y1="953.2" x2="1218.8" y2="953.2"/>
<line x1="1047" y1="965.9" x2="1534.7" y2="965.9"/>
<line x1="1047" y1="978.9" x2="1218.8" y2="978.9"/>
<line x1="1047" y1="991.8" x2="1218.8" y2="991.8"/>
<line x1="1047" y1="1004.3" x2="1534.7" y2="1004.3"/>
<line x1="1047" y1="1017.5" x2="1218.8" y2="1017.5"/>
<line x1="1403.9" y1="1017.5" x2="1534.7" y2="1017.5"/>
<line x1="1047" y1="1030" x2="1218.8" y2="1030"/>
<line x1="1047" y1="1042.9" x2="1534.7" y2="1042.9"/>
<line x1="1047" y1="1056" x2="1218.8" y2="1056"/>
<line x1="1047" y1="1068.5" x2="1218.8" y2="1068.5"/>
<line x1="1403.9" y1="1004.3" x2="1403.9" y2="1082"/>
<line x1="1443.1" y1="1004.3" x2="1443.1" y2="1042.9"/>
<line x1="1483.4" y1="1004.3" x2="1483.4" y2="1042.9"/>
</g>
<g font-size="7.2" text-anchor="middle">
<text x="1060" y="1001.5">Изм.</text><text x="1087" y="1001.5" textLength="24" lengthAdjust="spacingAndGlyphs">Кол.уч.</text>
<text x="1113.6" y="1001.5">Лист</text><text x="1139.8" y="1001.5" textLength="23" lengthAdjust="spacingAndGlyphs">N°док.</text>
<text x="1172.6" y="1001.5">Подп.</text><text x="1205.6" y="1001.5">Дата</text>
<text x="1376" y="957" font-size="10">-КМ</text>
<text x="1379" y="978" font-size="9">Цех убоя птицы</text>
<text x="1379" y="989" font-size="9">производительностью 6000 голов в час</text>
<text x="1379" y="1000" font-size="9">п. Березовка, Хабаровский край</text>
<text x="1311" y="1021" font-size="9">Цех убоя птицы</text>
<text x="1311" y="1033" font-size="9">Стальной каркас</text>
<text x="1311" y="1067" font-size="9">Узел 12</text>
<text x="1423.5" y="1014">Стадия</text><text x="1463" y="1014">Лист</text><text x="1509" y="1014">Листов</text>
<text x="1423.5" y="1034" font-size="8">Р</text><text x="1463" y="1034" font-size="8">20</text>
<text x="1241" y="1091">Копировал</text><text x="1430" y="1091">Формат А2</text>
</g>
</svg>
</body></html>
